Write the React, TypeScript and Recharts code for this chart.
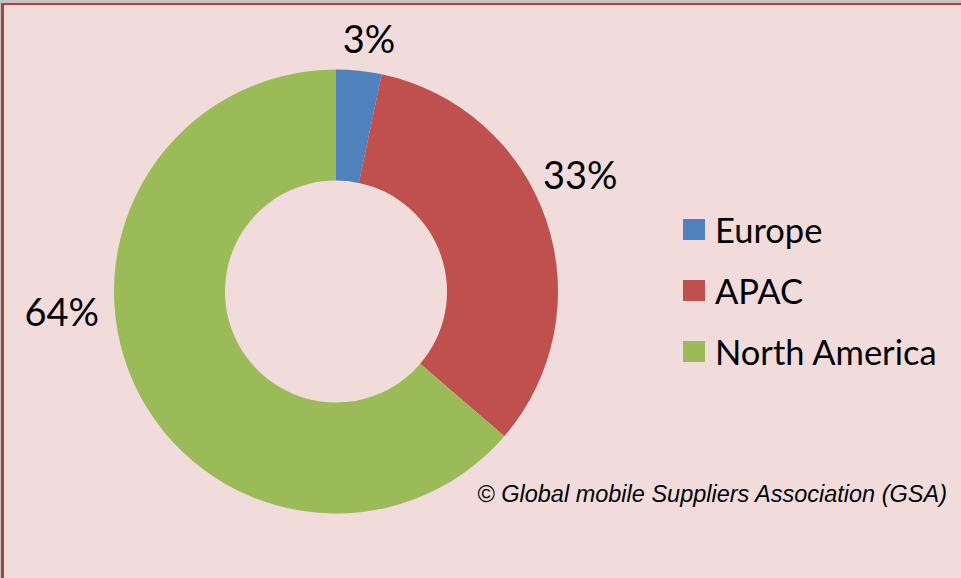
import React from "react";
import { PieChart, Pie, Cell, Legend } from "recharts";

const categories = ["Europe", "APAC", "North America"];
const shares = [3.3, 33.0, 63.7];
const labelTexts = ["3%", "33%", "64%"];
const colors = ["#4F81BD", "#C0504D", "#9BBB59"];

// label placement (style): angle in degrees, distance from centre
const LABEL_ANGLE = [82.6, 25.7, 184];
const LABEL_DIST = [256, 271, 275];

const data = categories.map((name, i) => ({ name, value: shares[i] }));

const FONT = "Lato, 'Open Sans', sans-serif";

const renderLabel = (props: any) => {
  const { cx, cy, index } = props;
  const a = (LABEL_ANGLE[index] * Math.PI) / 180;
  const r = LABEL_DIST[index];
  const x = cx + r * Math.cos(a);
  const y = cy - r * Math.sin(a);
  return (
    <text
      x={x}
      y={y}
      textAnchor="middle"
      dominantBaseline="central"
      fill="#000"
      fontSize={38}
      fontFamily={FONT}
    >
      {labelTexts[index]}
    </text>
  );
};

const renderLegend = () => (
  <div style={{ fontFamily: FONT }}>
    {categories.map((c, i) => (
      <div
        key={c}
        style={{ display: "flex", alignItems: "center", height: 61 }}
      >
        <div
          style={{
            width: 22,
            height: 21,
            background: colors[i],
            marginRight: 10,
          }}
        />
        <span style={{ fontSize: 34.5, color: "#000", lineHeight: "34px" }}>{c}</span>
      </div>
    ))}
  </div>
);

export default function App() {
  return (
    <div
      style={{
        position: "absolute",
        top: 0,
        left: 0,
        width: 961,
        height: 578,
        background: "#C4C4C4",
        overflow: "hidden",
      }}
    >
      <div
        style={{
          position: "absolute",
          left: 1,
          top: 3,
          width: 970,
          height: 590,
          background: "#F2DCDB",
          borderLeft: "3px solid #B0403E",
          borderTop: "2px solid #B0403E",
        }}
      />
      <div style={{ position: "absolute", left: 0, top: 0 }}>
        <PieChart width={961} height={578} margin={{ top: 0, right: 0, bottom: 0, left: 0 }}>
          <Pie
            data={data}
            dataKey="value"
            nameKey="name"
            cx={336}
            cy={291.5}
            innerRadius={111}
            outerRadius={222}
            startAngle={90}
            endAngle={-270}
            stroke="none"
            label={renderLabel}
            labelLine={false}
            isAnimationActive={false}
          >
            {data.map((d, i) => (
              <Cell key={d.name} fill={colors[i]} />
            ))}
          </Pie>
          <Legend
            content={renderLegend}
            layout="vertical"
            wrapperStyle={{ position: "absolute", left: 683, top: 199, width: 275 }}
          />
        </PieChart>
      </div>
      <div
        style={{
          position: "absolute",
          right: 14,
          top: 481,
          fontFamily: "'Liberation Sans', Arial, sans-serif",
          fontStyle: "italic",
          fontSize: 23.5,
          color: "#000",
          whiteSpace: "nowrap",
        }}
      >
        © Global mobile Suppliers Association (GSA)
      </div>
    </div>
  );
}
